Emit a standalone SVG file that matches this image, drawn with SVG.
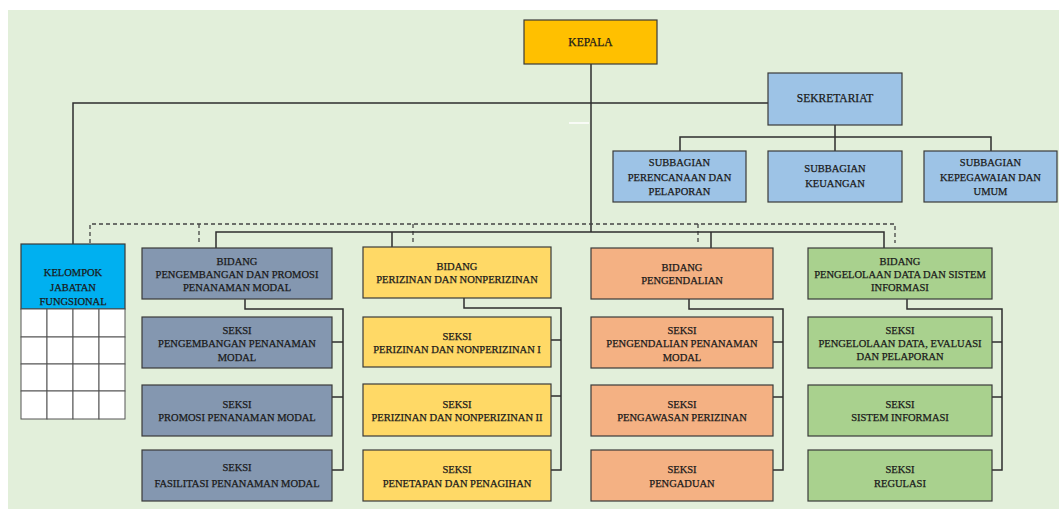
<svg xmlns="http://www.w3.org/2000/svg" width="1059" height="509" viewBox="0 0 1059 509">
<style>
.box{stroke:#3a3a3a;stroke-width:1.2}
.t{font-family:"Liberation Serif","Times New Roman",serif;font-size:10.5px;fill:#1a1a1a;stroke:#1a1a1a;stroke-width:0.25;text-anchor:middle}
.tl{font-size:11.5px}
.ln{fill:none;stroke:#2e2e2e;stroke-width:1.5}
.dash{fill:none;stroke:#444;stroke-width:1.3;stroke-dasharray:4 3}
.grid{fill:#fff;stroke:#555;stroke-width:1}
.kep{fill:#FFC000}.sek{fill:#9DC3E6}.kel{fill:#00B0F0}.gb{fill:#8497B0}.ye{fill:#FFD966}.or{fill:#F4B183}.gr{fill:#A9D18E}
</style>
<rect x="0" y="0" width="1059" height="509" fill="#fff"/>
<rect x="8" y="10" width="1051" height="499" fill="#E2EFDA"/>
<g id="connectors">
<path class="ln" d="M591 64 V232"/>
<path class="ln" d="M73 244 V103 H768"/>
<line x1="569" y1="123" x2="589" y2="123" stroke="#fff" stroke-width="1.5"/>
<path class="ln" d="M835 125 V137 M680 151 V137 H991 V151 M835 137 V151"/>
<path class="dash" d="M90 243 V224 H895 V243 M199 224 V243 M413 224 V243 M698 224 V243"/>
<path class="ln" d="M216 248 V232 H884 V248 M392 232 V247 M711 232 V248"/>
<path class="ln" d="M245 299 V309 H343 V470 H332 M332 342 H343 M332 397 H343"/>
<path class="ln" d="M464 298 V308 H561 V470 H551 M551 340 H561 M551 396 H561"/>
<path class="ln" d="M689 299 V309 H783 V470 H773 M773 342 H783 M773 397 H783"/>
<path class="ln" d="M907 299 V309 H1002 V470 H992 M992 342 H1002 M992 397 H1002"/>
</g>
<g id="kepala"><rect class="box kep" x="524" y="20" width="133" height="44"/><text class="t tl" x="590.5" y="46">KEPALA</text></g>
<g id="sekretariat"><rect class="box sek" x="768" y="73" width="134" height="52"/><text class="t tl" x="835" y="102">SEKRETARIAT</text></g>
<g id="sub-perencanaan"><rect class="box sek" x="613" y="151" width="133" height="51"/><text class="t" x="679.5" y="165.5">SUBBAGIAN</text><text class="t" x="679.5" y="180.5">PERENCANAAN DAN</text><text class="t" x="679.5" y="194.5">PELAPORAN</text></g>
<g id="sub-keuangan"><rect class="box sek" x="768" y="151" width="134" height="51"/><text class="t" x="835" y="171.5">SUBBAGIAN</text><text class="t" x="835" y="186.5">KEUANGAN</text></g>
<g id="sub-kepegawaian"><rect class="box sek" x="924" y="151" width="133" height="51"/><text class="t" x="990.5" y="165.5">SUBBAGIAN</text><text class="t" x="990.5" y="180.5">KEPEGAWAIAN DAN</text><text class="t" x="990.5" y="194.5">UMUM</text></g>
<g id="kelompok"><rect class="box kel" x="21" y="244" width="104" height="65"/><text class="t" x="73" y="275.5">KELOMPOK</text><text class="t" x="73" y="290.5">JABATAN</text><text class="t" x="73" y="304.5">FUNGSIONAL</text>
<g class="grid">
<rect x="21" y="309" width="26" height="28"/><rect x="47" y="309" width="26" height="28"/><rect x="73" y="309" width="26" height="28"/><rect x="99" y="309" width="26" height="28"/>
<rect x="21" y="337" width="26" height="27"/><rect x="47" y="337" width="26" height="27"/><rect x="73" y="337" width="26" height="27"/><rect x="99" y="337" width="26" height="27"/>
<rect x="21" y="364" width="26" height="27"/><rect x="47" y="364" width="26" height="27"/><rect x="73" y="364" width="26" height="27"/><rect x="99" y="364" width="26" height="27"/>
<rect x="21" y="391" width="26" height="28"/><rect x="47" y="391" width="26" height="28"/><rect x="73" y="391" width="26" height="28"/><rect x="99" y="391" width="26" height="28"/>
</g></g>
<g id="bidang-pengembangan"><rect class="box gb" x="142" y="248" width="190" height="51"/><text class="t" x="237" y="264.5">BIDANG</text><text class="t" x="237" y="277.5">PENGEMBANGAN DAN PROMOSI</text><text class="t" x="237" y="290.5">PENANAMAN MODAL</text></g>
<g id="seksi-pengembangan"><rect class="box gb" x="142" y="317" width="190" height="51"/><text class="t" x="237" y="333.5">SEKSI</text><text class="t" x="237" y="346.5">PENGEMBANGAN PENANAMAN</text><text class="t" x="237" y="360.5">MODAL</text></g>
<g id="seksi-promosi"><rect class="box gb" x="142" y="385" width="190" height="51"/><text class="t" x="237" y="407.5">SEKSI</text><text class="t" x="237" y="420.5">PROMOSI PENANAMAN MODAL</text></g>
<g id="seksi-fasilitasi"><rect class="box gb" x="142" y="450" width="190" height="51"/><text class="t" x="237" y="470.5">SEKSI</text><text class="t" x="237" y="486.5">FASILITASI PENANAMAN MODAL</text></g>
<g id="bidang-perizinan"><rect class="box ye" x="363" y="247" width="188" height="51"/><text class="t" x="457" y="269.5">BIDANG</text><text class="t" x="457" y="282.5">PERIZINAN DAN NONPERIZINAN</text></g>
<g id="seksi-perizinan-1"><rect class="box ye" x="363" y="317" width="188" height="50"/><text class="t" x="457" y="339.5">SEKSI</text><text class="t" x="457" y="352.5">PERIZINAN DAN NONPERIZINAN I</text></g>
<g id="seksi-perizinan-2"><rect class="box ye" x="363" y="384" width="188" height="52"/><text class="t" x="457" y="407.5">SEKSI</text><text class="t" x="457" y="420.5">PERIZINAN DAN NONPERIZINAN II</text></g>
<g id="seksi-penetapan"><rect class="box ye" x="363" y="450" width="188" height="51"/><text class="t" x="457" y="472.5">SEKSI</text><text class="t" x="457" y="486.5">PENETAPAN DAN PENAGIHAN</text></g>
<g id="bidang-pengendalian"><rect class="box or" x="591" y="248" width="182" height="51"/><text class="t" x="682" y="270.5">BIDANG</text><text class="t" x="682" y="283.5">PENGENDALIAN</text></g>
<g id="seksi-pengendalian"><rect class="box or" x="591" y="317" width="182" height="51"/><text class="t" x="682" y="333.5">SEKSI</text><text class="t" x="682" y="346.5">PENGENDALIAN PENANAMAN</text><text class="t" x="682" y="360.5">MODAL</text></g>
<g id="seksi-pengawasan"><rect class="box or" x="591" y="385" width="182" height="51"/><text class="t" x="682" y="407.5">SEKSI</text><text class="t" x="682" y="420.5">PENGAWASAN PERIZINAN</text></g>
<g id="seksi-pengaduan"><rect class="box or" x="591" y="450" width="182" height="51"/><text class="t" x="682" y="472.5">SEKSI</text><text class="t" x="682" y="486.5">PENGADUAN</text></g>
<g id="bidang-data"><rect class="box gr" x="808" y="248" width="184" height="51"/><text class="t" x="900" y="264.5">BIDANG</text><text class="t" x="900" y="277.5">PENGELOLAAN DATA DAN SISTEM</text><text class="t" x="900" y="290.5">INFORMASI</text></g>
<g id="seksi-data"><rect class="box gr" x="808" y="317" width="184" height="51"/><text class="t" x="900" y="333.5">SEKSI</text><text class="t" x="900" y="346.5">PENGELOLAAN DATA, EVALUASI</text><text class="t" x="900" y="359.5">DAN PELAPORAN</text></g>
<g id="seksi-sistem"><rect class="box gr" x="808" y="385" width="184" height="51"/><text class="t" x="900" y="407.5">SEKSI</text><text class="t" x="900" y="420.5">SISTEM INFORMASI</text></g>
<g id="seksi-regulasi"><rect class="box gr" x="808" y="450" width="184" height="51"/><text class="t" x="900" y="472.5">SEKSI</text><text class="t" x="900" y="486.5">REGULASI</text></g>
</svg>
